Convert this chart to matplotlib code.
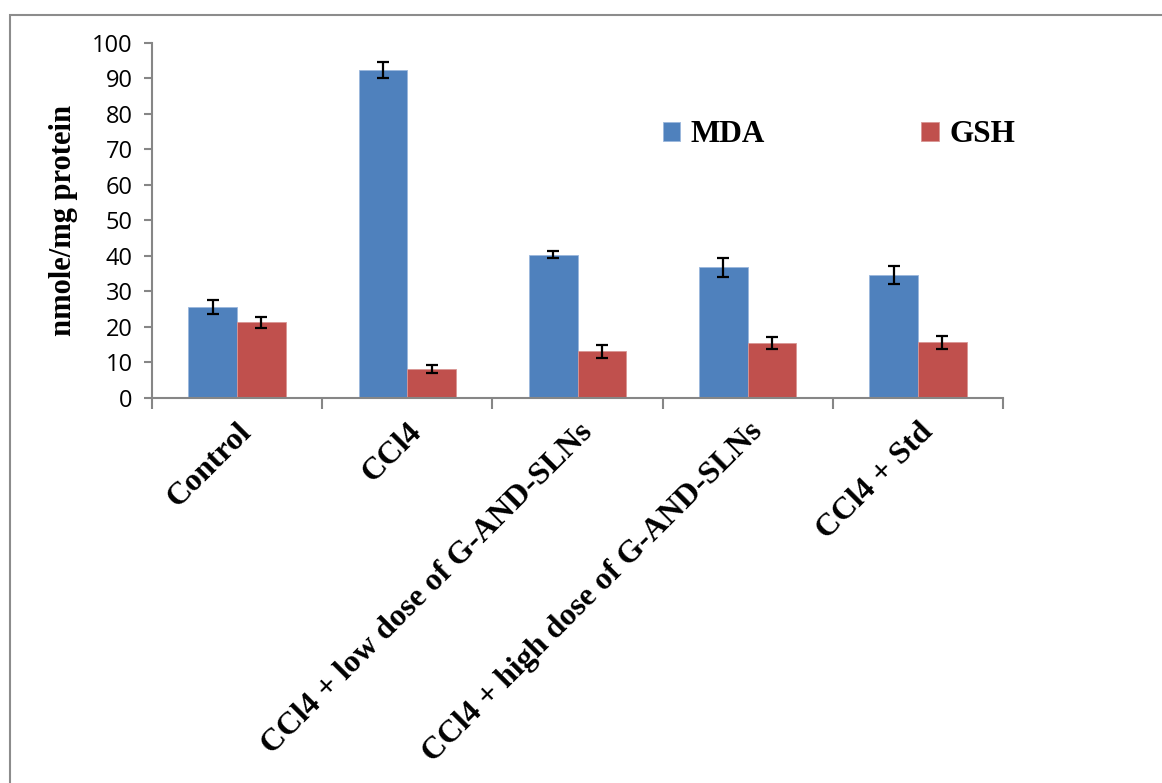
import numpy as np
import matplotlib
matplotlib.use("Agg")
import matplotlib.pyplot as plt
from matplotlib.patches import Rectangle

# ---------------- DATA ----------------
groups = ["Control", "CCl4", "CCl4 + low dose of G-AND-SLNs",
          "CCl4 + high dose of G-AND-SLNs", "CCl4 + Std"]
mda = [25.6, 92.3, 40.4, 36.8, 34.7]
mda_err = [2.0, 2.3, 1.1, 2.6, 2.5]
gsh = [21.3, 8.2, 13.1, 15.5, 15.7]
gsh_err = [1.5, 1.2, 1.9, 1.6, 1.8]

BLUE = "#4F81BD"
RED = "#C0504D"
AXIS = "#868686"
SERIF = "Liberation Serif"
SANS = "Open Sans"

fig = plt.figure(figsize=(11.62, 7.83), dpi=100)
ax = fig.add_axes([0.1308, 0.4917, 0.7324, 0.4534])

# outer chart border (left and top visible, rest clipped)
fig.patches.append(Rectangle((10 / 1162, -0.1), 1.2, 1 - 15 / 783 + 0.1,
                             transform=fig.transFigure, fill=False,
                             edgecolor="#8c8c8c", linewidth=1.5))

x = np.arange(len(groups))
w = 0.2857
ekw = dict(ecolor="black", elinewidth=1.6, capsize=4.5, capthick=1.6)
ax.bar(x - w / 2, mda, w, yerr=mda_err, color=BLUE, label="MDA",
       edgecolor="#9bb7dc", linewidth=0.6, error_kw=ekw)
ax.bar(x + w / 2, gsh, w, yerr=gsh_err, color=RED, label="GSH",
       edgecolor="#d99694", linewidth=0.6, error_kw=ekw)

ax.set_xlim(-0.5, len(groups) - 0.5)
ax.set_ylim(0, 100)
ax.set_yticks(np.arange(0, 101, 10))
for lab in ax.get_yticklabels():
    lab.set_fontfamily(SANS)
    lab.set_fontsize(17)

ax.set_xticks(x)
ax.set_xticklabels(groups, rotation=45, ha="right", rotation_mode="anchor",
                   fontfamily=SERIF, fontweight="bold", fontsize=23)
ax.set_xticks(np.arange(-0.5, len(groups), 1), minor=True)
ax.tick_params(axis="x", which="major", length=0, pad=14)
ax.tick_params(axis="x", which="minor", length=8, width=1.5, color=AXIS,
               direction="out")
ax.tick_params(axis="y", length=6, width=1.5, color=AXIS, pad=8)

for s in ["top", "right"]:
    ax.spines[s].set_visible(False)
for s in ["left", "bottom"]:
    ax.spines[s].set_color(AXIS)
    ax.spines[s].set_linewidth(1.5)

ax.set_ylabel("nmole/mg protein", fontfamily=SERIF, fontweight="bold",
              fontsize=22, labelpad=10)

ax.legend(loc="center left", bbox_to_anchor=(0.600, 0.741), ncol=2,
          frameon=False, borderpad=0, borderaxespad=0,
          handlelength=0.55, handleheight=0.55,
          handletextpad=0.35, columnspacing=5.0,
          prop=dict(family=SERIF, weight="bold", size=22.5))

fig.savefig("out.png", dpi=100, facecolor="white")
